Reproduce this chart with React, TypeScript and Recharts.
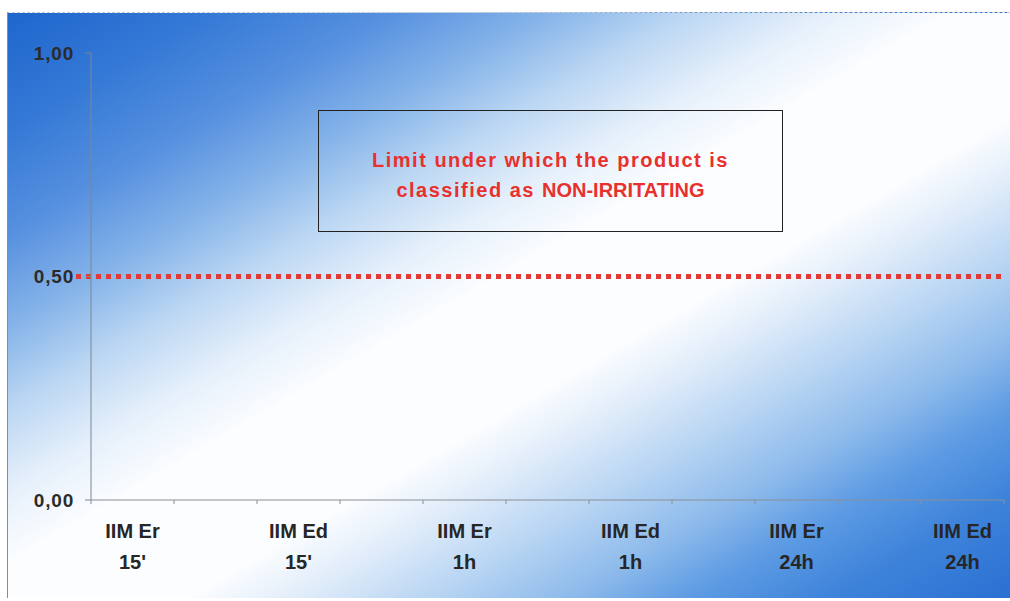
import React from 'react';
import { BarChart, Bar, XAxis, YAxis, ReferenceLine } from 'recharts';

// categories (empty ones are the unlabeled slots between labeled groups)
const categories: string[] = [
  "IIM Er|15'", '', "IIM Ed|15'", '', 'IIM Er|1h', '', 'IIM Ed|1h', '', 'IIM Er|24h', '', 'IIM Ed|24h',
];
const scores: number[] = [0, 0, 0, 0, 0, 0, 0, 0, 0, 0, 0];
const yTicks: number[] = [0, 0.5, 1];
const limitValue = 0.5;
const limitLines: string[] = ['Limit under which the product is', 'classified as '];
const limitEmphasis = 'NON-IRRITATING';

const data = categories.map((name, i) => ({ name, score: scores[i] }));

const FONT = '"Liberation Sans", Arial, Helvetica, sans-serif';

const fmt = (v: number) => v.toFixed(2).replace('.', ',');

const XTick = (props: any) => {
  const { x, y, payload, index, visibleTicksCount, width } = props;
  const n = visibleTicksCount || categories.length;
  const bw = width && n ? width / n : 83;
  const parts = String(payload.value || '').split('|');
  const isLast = index === n - 1;
  return (
    <g>
      <line x1={x - bw / 2} x2={x - bw / 2} y1={y} y2={y + 4} stroke="#8a8f96" strokeWidth={1} />
      {isLast && <line x1={x + bw / 2} x2={x + bw / 2} y1={y} y2={y + 4} stroke="#8a8f96" strokeWidth={1} />}
      {parts[0] ? (
        <text x={x} y={y + 38} textAnchor="middle" fontFamily={FONT} fontWeight="bold" fontSize={20} fill="#262626">
          {parts[0]}
        </text>
      ) : null}
      {parts[1] ? (
        <text x={x} y={y + 69} textAnchor="middle" fontFamily={FONT} fontWeight="bold" fontSize={20} fill="#262626">
          {parts[1]}
        </text>
      ) : null}
    </g>
  );
};

const LimitShape = (props: any) => {
  const { x1, x2, y1, y2 } = props;
  if (x1 == null || y1 == null) return null;
  return (
    <line
      x1={x1 - 15}
      y1={y1}
      x2={x2 - 3}
      y2={y2}
      stroke="#e43a36"
      strokeWidth={5}
      strokeDasharray="5 5"
    />
  );
};

export default function App() {
  return (
    <div style={{ position: 'absolute', left: 0, top: 0, width: 1010, height: 601, background: '#ffffff' }}>
      <div
        style={{
          position: 'absolute',
          left: 7,
          top: 12,
          width: 1003,
          height: 586,
          borderLeft: '1px solid #8a8a8a',
          borderTop: '1px dashed #c8ccd2',
          boxSizing: 'border-box',
          background:
            'linear-gradient(to bottom right, #1f66cd 0%, #3479d6 10%, #5690df 19%, #86b4e9 27%, #bcd7f3 34%, #e6f0fb 41%, #fbfdff 47%, #fbfdff 59%, #e2edfa 64%, #b8d5f3 71%, #8dbaeb 78%, #5d9be3 84%, #3e83da 91%, #2a70d2 100%)',
        }}
      >
        <BarChart
          width={1003}
          height={586}
          data={data}
          margin={{ top: 40, right: 7, bottom: 39, left: 0 }}
          style={{ position: 'absolute', left: 0, top: 0 }}
        >
          <XAxis
            dataKey="name"
            height={60}
            interval={0}
            tickSize={0}
            tickMargin={0}
            tickLine={false}
            axisLine={{ stroke: '#8a8f96', strokeWidth: 1 }}
            tick={<XTick />}
          />
          <YAxis
            width={83}
            domain={[0, 1]}
            ticks={yTicks}
            tickFormatter={fmt}
            tickSize={6}
            tickMargin={11}
            axisLine={{ stroke: '#7d8790', strokeWidth: 1 }}
            tickLine={{ stroke: '#7d8790', strokeWidth: 1 }}
            tick={{ fontFamily: FONT, fontWeight: 'bold', fontSize: 19, fill: '#2b2b2b', letterSpacing: 0.8 }}
          />
          <Bar dataKey="score" fill="#1f4e9c" isAnimationActive={false} />
          <ReferenceLine y={limitValue} shape={<LimitShape />} />
        </BarChart>
        <div
          style={{
            position: 'absolute',
            left: 310,
            top: 97,
            width: 465,
            height: 122,
            border: '1.5px solid #222',
            boxSizing: 'border-box',
            textAlign: 'center',
            paddingTop: 34,
            fontFamily: FONT,
            fontWeight: 'bold',
            fontSize: 20,
            lineHeight: '30px',
            color: '#e8302c',
          }}
        >
          <div style={{ letterSpacing: 1.5 }}>{limitLines[0]}</div>
          <div style={{ letterSpacing: 1.5 }}>
            {limitLines[1]}
            <span style={{ letterSpacing: 0 }}>{limitEmphasis}</span>
          </div>
        </div>
      </div>
    </div>
  );
}
